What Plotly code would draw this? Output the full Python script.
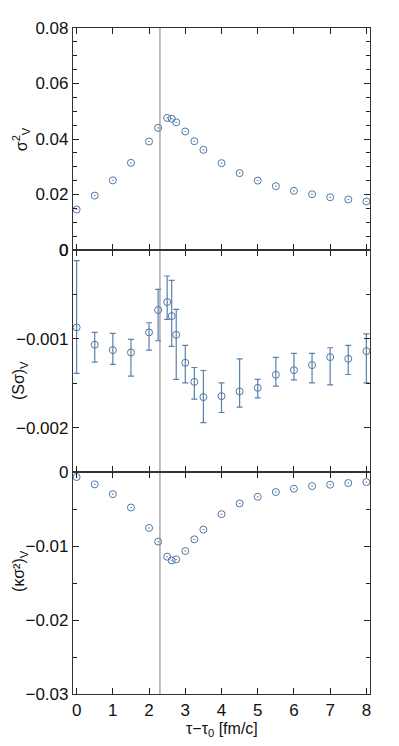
import plotly.graph_objects as go
from plotly.subplots import make_subplots

tau = [0, 0.5, 1, 1.5, 2, 2.25, 2.5, 2.625, 2.75, 3, 3.25, 3.5, 4, 4.5, 5, 5.5, 6, 6.5, 7, 7.5, 8]

sigma2 = [0.0146, 0.0196, 0.0251, 0.0314, 0.0391, 0.0440, 0.0476, 0.0473, 0.0460, 0.0427,
          0.0392, 0.0361, 0.0313, 0.0277, 0.0250, 0.0230, 0.0213, 0.0201, 0.0190, 0.0182, 0.0175]

s_sigma = [-0.000872, -0.001067, -0.001127, -0.001154, -0.000928, -0.000676, -0.000586, -0.000744,
           -0.000955, -0.001270, -0.001485, -0.001657, -0.001646, -0.001593, -0.001552, -0.001405,
           -0.001353, -0.001296, -0.001206, -0.001225, -0.001139]
s_sigma_hi = [-0.000120, -0.000928, -0.000940, -0.001007, -0.000819, -0.000443, -0.000293, -0.000342,
              -0.000669, -0.001075, -0.001323, -0.001357, -0.001496, -0.001225, -0.001458, -0.001210,
              -0.001165, -0.001165, -0.001101, -0.001075, -0.000944]
s_sigma_lo = [-0.001390, -0.001263, -0.001289, -0.001421, -0.001128, -0.001022, -0.000782, -0.001086,
              -0.001458, -0.001496, -0.001680, -0.001943, -0.001830, -0.001770, -0.001665, -0.001533,
              -0.001462, -0.001496, -0.001518, -0.001402, -0.001496]

k_sigma2 = [-0.00068, -0.00167, -0.00299, -0.00480, -0.00756, -0.00941, -0.01145, -0.01195, -0.01181,
            -0.01068, -0.00910, -0.00778, -0.00570, -0.00425, -0.00335, -0.00271, -0.00226, -0.00190,
            -0.00172, -0.00149, -0.00136]

tau_c = 2.3

x_ticks = [0, 1, 2, 3, 4, 5, 6, 7, 8]
y1_ticks = [0, 0.02, 0.04, 0.06, 0.08]
y1_text = ["0", "0.02", "0.04", "0.06", "0.08"]
y2_ticks = [0, -0.001, -0.002]
y2_text = ["0", "\u22120.001", "\u22120.002"]
y3_ticks = [0, -0.01, -0.02, -0.03]
y3_text = ["0", "\u22120.01", "\u22120.02", "\u22120.03"]

mcol = "#4f78a4"
ecol = "#5a82ad"
font = "Liberation Sans, Arial, sans-serif"

fig = make_subplots(rows=3, cols=1, shared_xaxes=True, vertical_spacing=0)

marker = dict(symbol="circle-open-dot", size=7, color=mcol, line=dict(width=1, color=mcol))

fig.add_trace(go.Scatter(x=tau, y=sigma2, mode="markers", marker=marker, showlegend=False), row=1, col=1)

err_plus = [h - c for h, c in zip(s_sigma_hi, s_sigma)]
err_minus = [c - l for c, l in zip(s_sigma, s_sigma_lo)]
fig.add_trace(go.Scatter(x=tau, y=s_sigma, mode="markers",
                         marker=dict(symbol="circle-open", size=7, color=mcol, line=dict(width=1, color=mcol)),
                         error_y=dict(type="data", symmetric=False, array=err_plus, arrayminus=err_minus,
                                      color=ecol, thickness=1.2, width=3),
                         showlegend=False), row=2, col=1)

fig.add_trace(go.Scatter(x=tau, y=k_sigma2, mode="markers", marker=marker, showlegend=False), row=3, col=1)

fig.add_shape(type="line", x0=tau_c, x1=tau_c, xref="x", yref="paper", y0=0, y1=1,
              line=dict(color="#aaaaaa", width=1.5), layer="below")

axcommon = dict(showline=True, linecolor="#333333", linewidth=1.2, mirror="ticks", ticks="inside",
                ticklen=6, tickwidth=1.2, tickcolor="#222222", showgrid=False, zeroline=False,
                automargin=False, tickfont=dict(family=font, size=17, color="#111111"))

for r in (1, 2, 3):
    fig.update_xaxes(range=[-0.1, 8.1], tickvals=x_ticks, showticklabels=(r == 3), row=r, col=1, **axcommon)

fig.update_yaxes(range=[0, 0.08], tickvals=y1_ticks, ticktext=y1_text, row=1, col=1,
                 minor=dict(dtick=0.005, ticks="inside", ticklen=4, tickcolor="#222222", tickwidth=1.2), **axcommon)
fig.update_yaxes(range=[-0.0025, 0], tickvals=y2_ticks, ticktext=y2_text, row=2, col=1,
                 minor=dict(dtick=0.0005, ticks="inside", ticklen=4, tickcolor="#222222", tickwidth=1.2), **axcommon)
fig.update_yaxes(range=[-0.03, 0], tickvals=y3_ticks, ticktext=y3_text, row=3, col=1,
                 minor=dict(dtick=0.005, ticks="inside", ticklen=4, tickcolor="#222222", tickwidth=1.2), **axcommon)

annfont = dict(family=font, size=16, color="#111111")
fig.add_annotation(text="\u03c3<sup>2</sup><sub>V</sub>", xref="paper", yref="paper", x=-0.175, y=0.833,
                   textangle=-90, showarrow=False, font=annfont, xanchor="center", yanchor="middle")
fig.add_annotation(text="(S\u03c3)<sub>V</sub>", xref="paper", yref="paper", x=-0.178, y=0.47,
                   textangle=-90, showarrow=False, font=annfont, xanchor="center", yanchor="middle")
fig.add_annotation(text="(\u03ba\u03c3\u00b2)<sub>V</sub>", xref="paper", yref="paper", x=-0.178, y=0.185,
                   textangle=-90, showarrow=False, font=annfont, xanchor="center", yanchor="middle")
fig.add_annotation(text="\u03c4\u2212\u03c4<sub>0</sub> [fm/c]", xref="paper", yref="paper", x=0.5, y=-0.053,
                   showarrow=False, font=annfont, xanchor="center", yanchor="middle")

fig.update_layout(width=383, height=730, margin=dict(l=65, r=21, t=20, b=44),
                  plot_bgcolor="white", paper_bgcolor="white", font=dict(family=font))

fig.write_html("out.html")
